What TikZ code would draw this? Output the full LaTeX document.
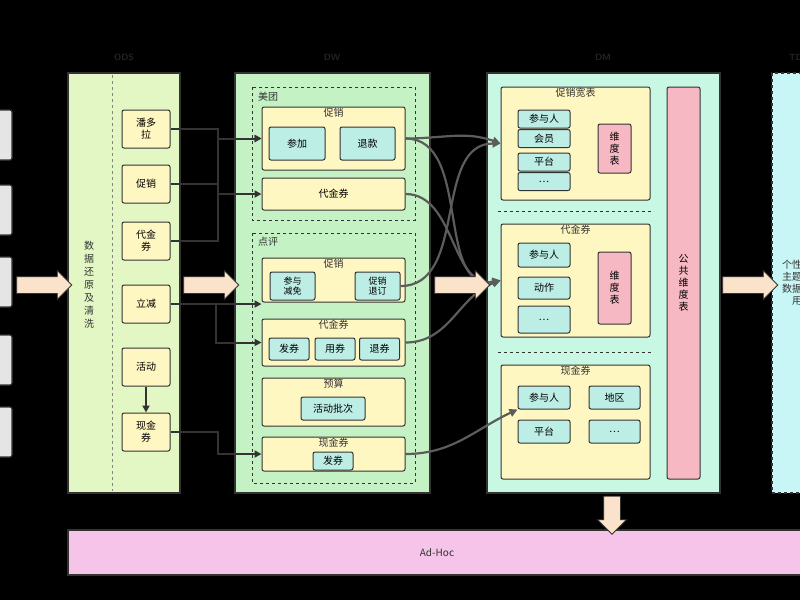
\documentclass[tikz,border=0pt]{standalone}
\usepackage{fontspec}
\newfontfamily\cjk{Noto Sans CJK SC}
\usepackage{tikz}
\usetikzlibrary{positioning, arrows.meta, shapes.arrows, calc, fit}
\definecolor{odsgreen}{HTML}{E2F7C4}
\definecolor{dwgreen}{HTML}{C4F2C4}
\definecolor{dmmint}{HTML}{C8F7E4}
\definecolor{tdcyan}{HTML}{C8F5F5}
\definecolor{boxylw}{HTML}{FFF7C2}
\definecolor{itemteal}{HTML}{BDEEE6}
\definecolor{dimpink}{HTML}{F6B8C2}
\definecolor{adhocpink}{HTML}{F5C4E8}
\definecolor{peach}{HTML}{FBE2CA}
\definecolor{lineg}{HTML}{333333}
\begin{document}
\begin{tikzpicture}[x=1pt, y=-1pt,
    font=\cjk\fontsize{10}{12}\selectfont,
    panel/.style={draw=lineg, line width=1.2pt, inner sep=0pt},
    box/.style={draw=lineg, line width=1pt, fill=boxylw, rounded corners=2pt, inner sep=0pt, align=center},
    item/.style={draw=lineg, line width=1pt, fill=itemteal, rounded corners=2pt, inner sep=0pt, align=center},
    dim/.style={draw=lineg, line width=1pt, fill=dimpink, rounded corners=2pt, inner sep=0pt, align=center},
    ttl/.style={anchor=north, inner sep=1pt, text=lineg},
    head/.style={text=lineg!70!black, font=\sffamily\bfseries\small},
    grp/.style={draw=lineg, dashed, line width=0.6pt},
    conn/.style={draw=lineg, line width=2pt, -{Triangle[length=7pt,width=7pt]}},
    curve/.style={draw=lineg!80, line width=2.2pt, -{Triangle[length=8pt,width=8pt]}},
    fat/.style={single arrow, draw=lineg, fill=peach, line width=0.8pt, minimum height=55pt,
        inner xsep=0pt, inner ysep=8pt, single arrow head extend=6pt}]
    \fill[black] (0,0) rectangle (800,600);
    \useasboundingbox (0,0) rectangle (800,600);
    \begin{scope}
    \clip (0,0) rectangle (800,600);

    % sources
    \foreach \y/\i in {135/1, 210/2, 282/3, 360/4, 432/5}
        \node[panel, fill=gray!20, rounded corners=2pt, minimum width=30pt, minimum height=50pt] (src\i) at (-3,\y) {};

    % layer headings
    \node[head] (hods) at (124,57) {ODS};
    \node[head] (hdw) at (332,57) {DW};
    \node[head] (hdm) at (603,57) {DM};
    \node[head] (hto) at (796,57) {TD};

    % panels
    \node[panel, fill=odsgreen, minimum width=112pt, minimum height=420pt] (ods) at (124,283) {};
    \node[panel, fill=dwgreen, minimum width=195pt, minimum height=420pt] (dw) at (332.5,283) {};
    \node[panel, fill=dmmint, minimum width=233pt, minimum height=420pt] (dm) at (603.5,283) {};
    \node[panel, dashed, fill=tdcyan, minimum width=60pt, minimum height=420pt] (td) at (802,283) {};
    \node[panel, fill=adhocpink, minimum width=760pt, minimum height=45pt] (adhoc) at (448,552.5) {};
    \node[text=lineg] (adhoctxt) at (437,552.5) {Ad-Hoc};

    % ODS
    \draw[lineg!60, dashed, line width=1pt] (112,75) -- (112,491);
    \node[text=lineg, align=center, font=\cjk\fontsize{10}{13}\selectfont] (clean) at (89,285) {数\\据\\还\\原\\及\\清\\洗};
    \foreach \n/\y/\t in {pdl/129/潘多\\拉, ocx/184/促销, odj/241/代金\\券, olj/304/立减, ohd/367/活动, oxj/432/现金\\券}
        \node[box, minimum width=48pt, minimum height=38pt] (\n) at (146,\y) {\t};
    \draw[conn] (ohd) -- (oxj);

    % DW
    \draw[grp] (252,87) rectangle (415,220);
    \node[anchor=west, text=lineg, inner sep=0pt] (mt) at (258,97) {美团};
    \node[box, minimum width=143pt, minimum height=63pt] (mtcx) at (333.5,138.5) {};
    \node[ttl] (mtcxt) at (mtcx.north) {促销};
    \node[item, minimum width=56pt, minimum height=33pt] (mtcj) at (297,143.5) {参加};
    \node[item, minimum width=55pt, minimum height=33pt] (mttk) at (367.5,143.5) {退款};
    \node[box, minimum width=143pt, minimum height=32pt] (mtdj) at (333.5,194) {代金券};

    \draw[grp] (252,233) rectangle (415,483);
    \node[anchor=west, text=lineg, inner sep=0pt] (dp) at (258,242) {点评};
    \node[box, minimum width=143pt, minimum height=44pt] (dpcx) at (333.5,280) {};
    \node[ttl] (dpcxt) at (dpcx.north) {促销};
    \node[item, minimum width=45pt, minimum height=28pt, font=\cjk\fontsize{9}{10}\selectfont] (dpjm) at (292.5,286) {参与\\减免};
    \node[item, minimum width=45pt, minimum height=28pt, font=\cjk\fontsize{9}{10}\selectfont] (dptd) at (377.5,286) {促销\\退订};
    \node[box, minimum width=143pt, minimum height=47pt] (dpdj) at (333.5,342.5) {};
    \node[ttl] (dpdjt) at (dpdj.north) {代金券};
    \node[item, minimum width=40pt, minimum height=22pt] (dpfq) at (289,349) {发券};
    \node[item, minimum width=40pt, minimum height=22pt] (dpyq) at (335,349) {用券};
    \node[item, minimum width=40pt, minimum height=22pt] (dptq) at (379.5,349) {退券};
    \node[box, minimum width=143pt, minimum height=48pt] (dpys) at (333.5,402) {};
    \node[ttl] (dpyst) at (dpys.north) {预算};
    \node[item, minimum width=64pt, minimum height=23pt] (dppc) at (333,408.5) {活动批次};
    \node[box, minimum width=143pt, minimum height=34pt] (dpxj) at (333.5,454) {};
    \node[ttl] (dpxjt) at (dpxj.north) {现金券};
    \node[item, minimum width=40pt, minimum height=18pt] (dpxf) at (333,461) {发券};

    % ODS -> DW
    \draw[conn] (pdl.east) -- ++(47,0) |- (mtcx.west);
    \draw[conn] (ocx.east) -- ++(47,0) |- (mtdj.west);
    \draw[conn] (odj.east) -- ++(47,0) |- (mtcx.west);
    \draw[conn] (olj.east) -- (dpcx.west |- olj.east);
    \draw[conn] (olj.east) -- ++(45,0) |- (dpdj.west);
    \draw[conn] (oxj.east) -- ++(47,0) |- (dpxj.west);

    % DM
    \node[box, minimum width=149pt, minimum height=113pt] (cxkb) at (575.5,143.5) {};
    \node[ttl] (cxkbt) at (cxkb.north) {促销宽表};
    \foreach \n/\y/\t in {kcy/119/参与人, khy/138.5/会员, kpt/162/平台, kmo/181.5/{\ldots}}
        \node[item, minimum width=52pt, minimum height=18pt] (\n) at (544,\y) {\t};
    \node[dim, minimum width=33pt, minimum height=49pt] (kwd) at (614.5,148.5) {维\\度\\表};
    \draw[lineg, dashed, line width=0.8pt] (498,211) -- (653,211);
    \node[box, minimum width=149pt, minimum height=113pt] (mdj) at (575.5,280.5) {};
    \node[ttl] (mdjt) at (mdj.north) {代金券};
    \node[item, minimum width=52pt, minimum height=24pt] (dcy) at (544,255) {参与人};
    \node[item, minimum width=52pt, minimum height=22pt] (ddz) at (544,288) {动作};
    \node[item, minimum width=52pt, minimum height=27pt] (dmo) at (544,319.5) {\ldots};
    \node[dim, minimum width=33pt, minimum height=72pt] (dwd) at (614.5,288) {维\\度\\表};
    \draw[lineg, dashed, line width=0.8pt] (498,352) -- (653,352);
    \node[box, minimum width=149pt, minimum height=114pt] (mxj) at (575.5,422) {};
    \node[ttl] (mxjt) at (mxj.north) {现金券};
    \node[item, minimum width=52pt, minimum height=23pt] (xcy) at (544,397.5) {参与人};
    \node[item, minimum width=51pt, minimum height=23pt] (xdq) at (614.5,397.5) {地区};
    \node[item, minimum width=52pt, minimum height=23pt] (xpt) at (544,431.5) {平台};
    \node[item, minimum width=51pt, minimum height=23pt] (xmo) at (614.5,431.5) {\ldots};
    \node[dim, minimum width=33pt, minimum height=392pt] (ggwd) at (683.5,283) {公\\共\\维\\度\\表};

    % DW -> DM
    \draw[curve] (mtcx.east) to[out=0, in=190] (mdj.west);
    \draw[curve] (mtdj.east) to[out=0, in=190] (mdj.west);
    \draw[curve] (dptd.east) to[out=0, in=180] (cxkb.west);
    \draw[curve] (mtcx.east) to[out=0, in=160] (cxkb.west);
    \draw[curve] (dpdj.east) to[out=0, in=200] (mdj.west);
    \draw[curve] (dpxj.east) to[out=0, in=205] (xcy.south west);

    % td text
    \node[text=lineg, align=center] (tdtxt) at (797,283) {个性化\\主题域\\数据集\\用};

    % flow arrows
    \node[fat] (a1) at (40,285) {};
    \node[fat] (a2) at (207,285) {};
    \node[fat] (a3) at (458,285) {};
    \node[fat] (a4) at (746,285) {};
    \node[fat, rotate=-90, minimum height=38pt] (a5) at (612,511) {};
    \end{scope}
\end{tikzpicture}
\end{document}
